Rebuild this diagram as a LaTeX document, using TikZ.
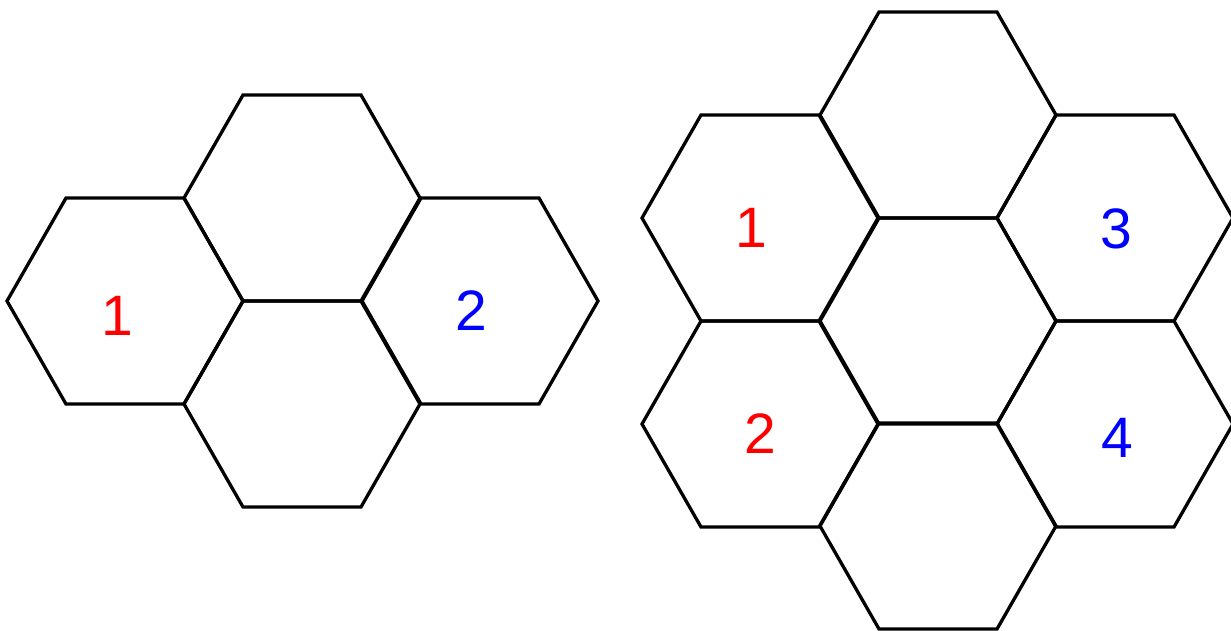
\documentclass[tikz,border=0pt]{standalone}
\usepackage{fontspec}
\setmainfont{Liberation Sans}
\usepackage{xcolor}
\usepackage{tikz}

\tikzset{
    cell/.style={black, line width=3.3pt},
    num/.style={font=\fontsize{57}{60}\selectfont, inner sep=0pt}
}

\begin{document}
\begin{tikzpicture}[x=1pt,y=-1pt]
    \useasboundingbox (0,0) rectangle (1231,630);
    % left group and right group of cells
    \foreach \x/\y in {125/301, 302/198, 302/404, 480/301,
                       938/115, 760/218, 1115/218, 938/321, 760/424, 1115/424, 938/526}
        \draw[cell] (\x-118,\y) -- ++(59,-103) -- ++(118,0) -- ++(59,103)
            -- ++(-59,103) -- ++(-118,0) -- cycle;
    \node[num, red]  (l1) at (117,316) {1};
    \node[num, blue] (l2) at (471,311) {2};
    \node[num, red]  (r1) at (751,228) {1};
    \node[num, blue] (r3) at (1116,229) {3};
    \node[num, red]  (r2) at (760,434) {2};
    \node[num, blue] (r4) at (1117,438) {4};
\end{tikzpicture}
\end{document}
